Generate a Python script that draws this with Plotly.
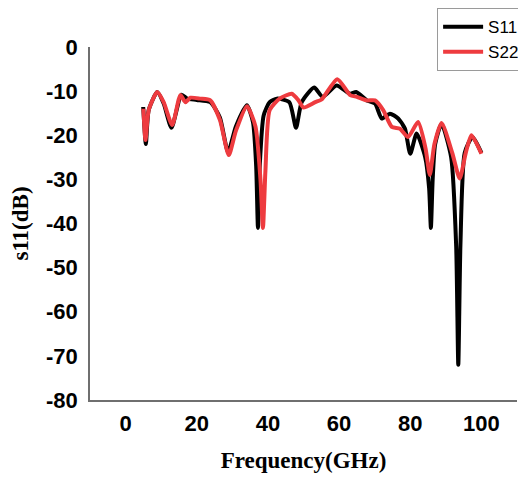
import plotly.graph_objects as go

s11_freq = [4.95, 5.7, 6.5, 8.9, 10.7, 12.9, 15.7, 17.3, 20.0, 23.8, 26.5, 28.8, 31.0, 34.1, 35.8, 36.7, 37.2, 37.7, 38.8, 40.5, 42.5, 46.0, 47.9, 49.5, 53.0, 55.4, 59.3, 63.1, 64.8, 67.8, 70.1, 72.0, 74.3, 76.6, 78.5, 80.0, 81.8, 84.2, 85.3, 85.8, 86.3, 87.0, 88.8, 91.5, 92.9, 93.5, 94.1, 95.3, 97.5, 100.0]
s11_db = [-13.6, -22.0, -14.3, -10.2, -12.8, -18.3, -10.8, -11.7, -12.0, -12.5, -16.0, -23.8, -18.0, -13.2, -17.0, -27.0, -41.0, -27.0, -15.5, -12.5, -11.7, -12.5, -18.3, -12.5, -9.2, -11.3, -8.7, -10.6, -10.2, -12.1, -12.8, -16.2, -15.1, -16.2, -18.5, -24.2, -19.6, -25.0, -32.0, -41.0, -30.0, -22.0, -17.4, -25.0, -45.0, -72.0, -45.0, -24.0, -20.4, -24.0]

s22_freq = [5.0, 5.6, 6.5, 8.9, 10.7, 13.1, 15.4, 16.8, 18.2, 21.0, 23.8, 26.5, 29.0, 31.0, 34.1, 36.5, 37.9, 38.6, 39.3, 40.5, 43.3, 46.7, 48.6, 50.0, 53.3, 55.1, 59.5, 63.1, 65.0, 67.8, 70.1, 72.4, 74.8, 77.1, 79.4, 82.2, 84.3, 85.5, 86.8, 88.8, 91.8, 93.9, 95.6, 97.2, 100.0]
s22_db = [-14.0, -21.1, -14.3, -10.2, -12.5, -17.7, -10.9, -12.5, -11.5, -11.7, -12.1, -16.5, -24.5, -19.0, -13.4, -18.0, -30.0, -41.0, -28.0, -14.3, -11.7, -10.6, -12.1, -13.7, -12.5, -11.9, -7.3, -10.9, -11.3, -12.1, -12.1, -14.3, -18.1, -18.5, -20.4, -17.0, -23.0, -29.0, -22.0, -17.2, -24.0, -29.8, -24.0, -20.0, -24.2]

x_ticks = [0, 20, 40, 60, 80, 100]
y_ticks = [0, -10, -20, -30, -40, -50, -60, -70, -80]

fig = go.Figure()
fig.add_trace(go.Scatter(x=s11_freq, y=s11_db, mode="lines", name="S11",
                         line=dict(color="#000000", width=4, shape="spline", smoothing=0.6)))
fig.add_trace(go.Scatter(x=s22_freq, y=s22_db, mode="lines", name="S22",
                         line=dict(color="#ee3b3f", width=4, shape="spline", smoothing=0.6)))

tick_font = dict(family="Liberation Sans, Arial", size=22, color="#000000")
title_font = dict(family="Liberation Serif, Times New Roman", size=23, color="#000000")

# page body has an 8px default margin, so the figure is sized to fill the rest of the window
fig.update_layout(
    width=518, height=470,
    margin=dict(l=82, r=9, t=39, b=78, autoexpand=False),
    paper_bgcolor="white", plot_bgcolor="white",
    showlegend=True,
    legend=dict(x=1.019, y=1.11, xanchor="right", yanchor="top",
                bordercolor="#9a9a9a", borderwidth=1, bgcolor="white",
                font=dict(family="Liberation Sans, Arial", size=17, color="#000000"),
                tracegroupgap=0, itemwidth=40),
    xaxis=dict(range=[-10, 110], tickvals=x_ticks, ticktext=[f"<b>{v}</b>" for v in x_ticks],
               showgrid=False, zeroline=False, showline=True, linecolor="#6f6f6f", linewidth=1.5,
               ticks="", ticklabelstandoff=3, tickfont=tick_font,
               title=dict(text="<b>Frequency(GHz)</b>", font=title_font, standoff=17)),
    yaxis=dict(range=[-80, 0], tickvals=y_ticks, ticktext=[f"<b>{v}</b>" for v in y_ticks],
               showgrid=False, zeroline=False, showline=True, linecolor="#6f6f6f", linewidth=1.5,
               ticks="", ticklabelstandoff=6, tickfont=tick_font,
               title=dict(text="<b>s11(dB)</b>", font=title_font, standoff=15)),
)

fig.write_html("out.html")
